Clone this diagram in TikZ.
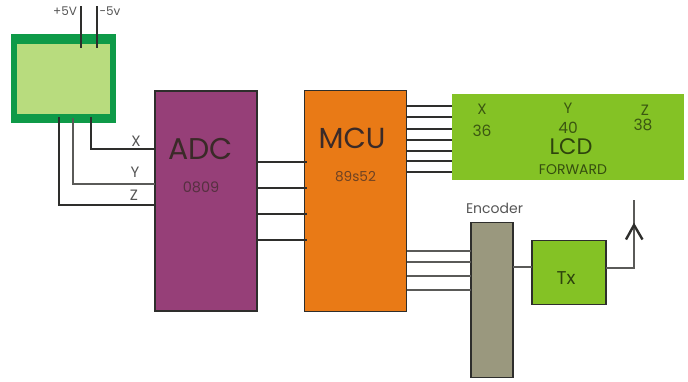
\documentclass[tikz,border=0pt]{standalone}
\usepackage{fontspec}
\setmainfont{Poppins}
\begin{document}
\begin{tikzpicture}[x=1pt,y=-1pt,
  block/.style={anchor=north west,inner sep=0pt,outer sep=0pt},
  box/.style={block,draw=linedark,line width=1.9pt},
  wire/.style={draw=linedark,line width=1.2pt},
  thinwire/.style={draw=linegray,line width=1.1pt},
  boldwire/.style={draw=linedark,line width=2.2pt},
  lbl/.style={inner sep=0pt,text=labelc},
  dark/.style={inner sep=0pt,text=darktext}]
\definecolor{linedark}{HTML}{2E2E2C}
\definecolor{linegray}{HTML}{5A5A58}
\definecolor{labelc}{HTML}{555555}
\definecolor{darktext}{HTML}{3A2A28}
\definecolor{sensorout}{HTML}{0E9A48}
\definecolor{sensorin}{HTML}{B8DC7E}
\definecolor{adcc}{HTML}{963F78}
\definecolor{mcuc}{HTML}{E97A16}
\definecolor{lcdc}{HTML}{84C225}
\definecolor{encc}{HTML}{9A987E}
\useasboundingbox (0,0) rectangle (688,381);
% blocks
\node[block,fill=sensorout,minimum width=105pt,minimum height=89pt] (sensor) at (11,34) {};
\node[block,fill=sensorin,minimum width=93pt,minimum height=70pt] (inner) at (17,44) {};
\node[box,fill=adcc,minimum width=102pt,minimum height=220pt] (adc) at (155,91) {};
\node[box,fill=mcuc,minimum width=102pt,minimum height=221pt] (mcu) at (304.5,90.5) {};
\node[block,fill=lcdc,minimum width=232pt,minimum height=86pt] (lcd) at (452,94) {};
\node[box,fill=encc,minimum width=42pt,minimum height=155pt] (enc) at (471,222.5) {};
\node[box,fill=lcdc,minimum width=74pt,minimum height=64pt] (tx) at (532,240.5) {};
% supply
\coordinate (vp) at (81,6); \coordinate (vm) at (97,6);
\draw[boldwire] (vp) -- (81,48);
\draw[boldwire] (vm) -- (97,48);
% sensor to ADC
\draw[boldwire] (91,117) |- (adc.west |- 0,149);
\draw[thinwire] (73,118) |- (adc.west |- 0,184);
\draw[wire,line width=1.6pt] (59,117) |- (adc.west |- 0,205);
% ADC to MCU
\foreach \y in {162,188,214,240}
  \draw[boldwire,line width=2pt] (adc.east |- 0,\y) -- (307,\y);
% MCU to LCD
\foreach \y in {106,117,129,140,151,161,172}
  \draw[wire] (mcu.east |- 0,\y) -- (lcd.west |- 0,\y);
% MCU to encoder
\foreach \y in {251,262,276,290}
  \draw[thinwire] (mcu.east |- 0,\y) -- (enc.west |- 0,\y);
% encoder to Tx, Tx to antenna
\draw[thinwire] (enc.east |- 0,267) -- (tx.west |- 0,267);
\coordinate (anttop) at (634,200);
\coordinate (anttip) at (634,225);
\draw[thinwire] (tx.east |- 0,268) -- (634,268) -- (anttop);
\draw[draw=linedark,line width=2.4pt] (626,239.5) -- (anttip) -- (642.5,239.5);
% labels
\node[lbl,font=\fontsize{12}{12}\selectfont] (lp) at (65,11) {+5V};
\node[lbl,font=\fontsize{12}{12}\selectfont] (lm) at (110,11) {-5v};
\node[lbl,font=\fontsize{15}{15}\selectfont] (lx) at (136,141) {X};
\node[lbl,font=\fontsize{15}{15}\selectfont] (ly) at (135,172) {Y};
\node[lbl,font=\fontsize{15}{15}\selectfont] (lz) at (134,195) {Z};
\node[dark,font=\fontsize{30}{30}\selectfont] (adct) at (200.5,149) {ADC};
\node[dark,text=darktext!70!adcc,font=\fontsize{14.5}{14.5}\selectfont] (adcn) at (201,187) {0809};
\node[dark,font=\fontsize{29}{29}\selectfont] (mcut) at (352,138) {MCU};
\node[dark,text=darktext!70!mcuc,font=\fontsize{13.7}{13.7}\selectfont] (mcun) at (355.5,177) {89s52};
\node[dark,text=black!55!lcdc,font=\fontsize{15}{15}\selectfont] (lcdx) at (482,109) {X};
\node[dark,text=black!55!lcdc,font=\fontsize{15}{15}\selectfont] (lcdy) at (568,108) {Y};
\node[dark,text=black!55!lcdc,font=\fontsize{15}{15}\selectfont] (lcdz) at (645,110) {Z};
\node[dark,text=black!55!lcdc,font=\fontsize{15.5}{15.5}\selectfont] (n36) at (482,131) {36};
\node[dark,text=black!55!lcdc,font=\fontsize{15.5}{15.5}\selectfont] (n40) at (568,128) {40};
\node[dark,text=black!55!lcdc,font=\fontsize{15.5}{15.5}\selectfont] (n38) at (643,125) {38};
\node[dark,text=black!65!lcdc,font=\fontsize{22.5}{22.5}\selectfont] (lcdt) at (571,147) {LCD};
\node[dark,text=black!60!lcdc,font=\fontsize{14}{14}\selectfont] (fwd) at (573,170) {FORWARD};
\node[lbl,font=\fontsize{14}{14}\selectfont] (enct) at (494.5,208) {Encoder};
\node[dark,text=black!65!lcdc,font=\fontsize{18.5}{18.5}\selectfont] (txt) at (566,278) {Tx};
\end{tikzpicture}
\end{document}
